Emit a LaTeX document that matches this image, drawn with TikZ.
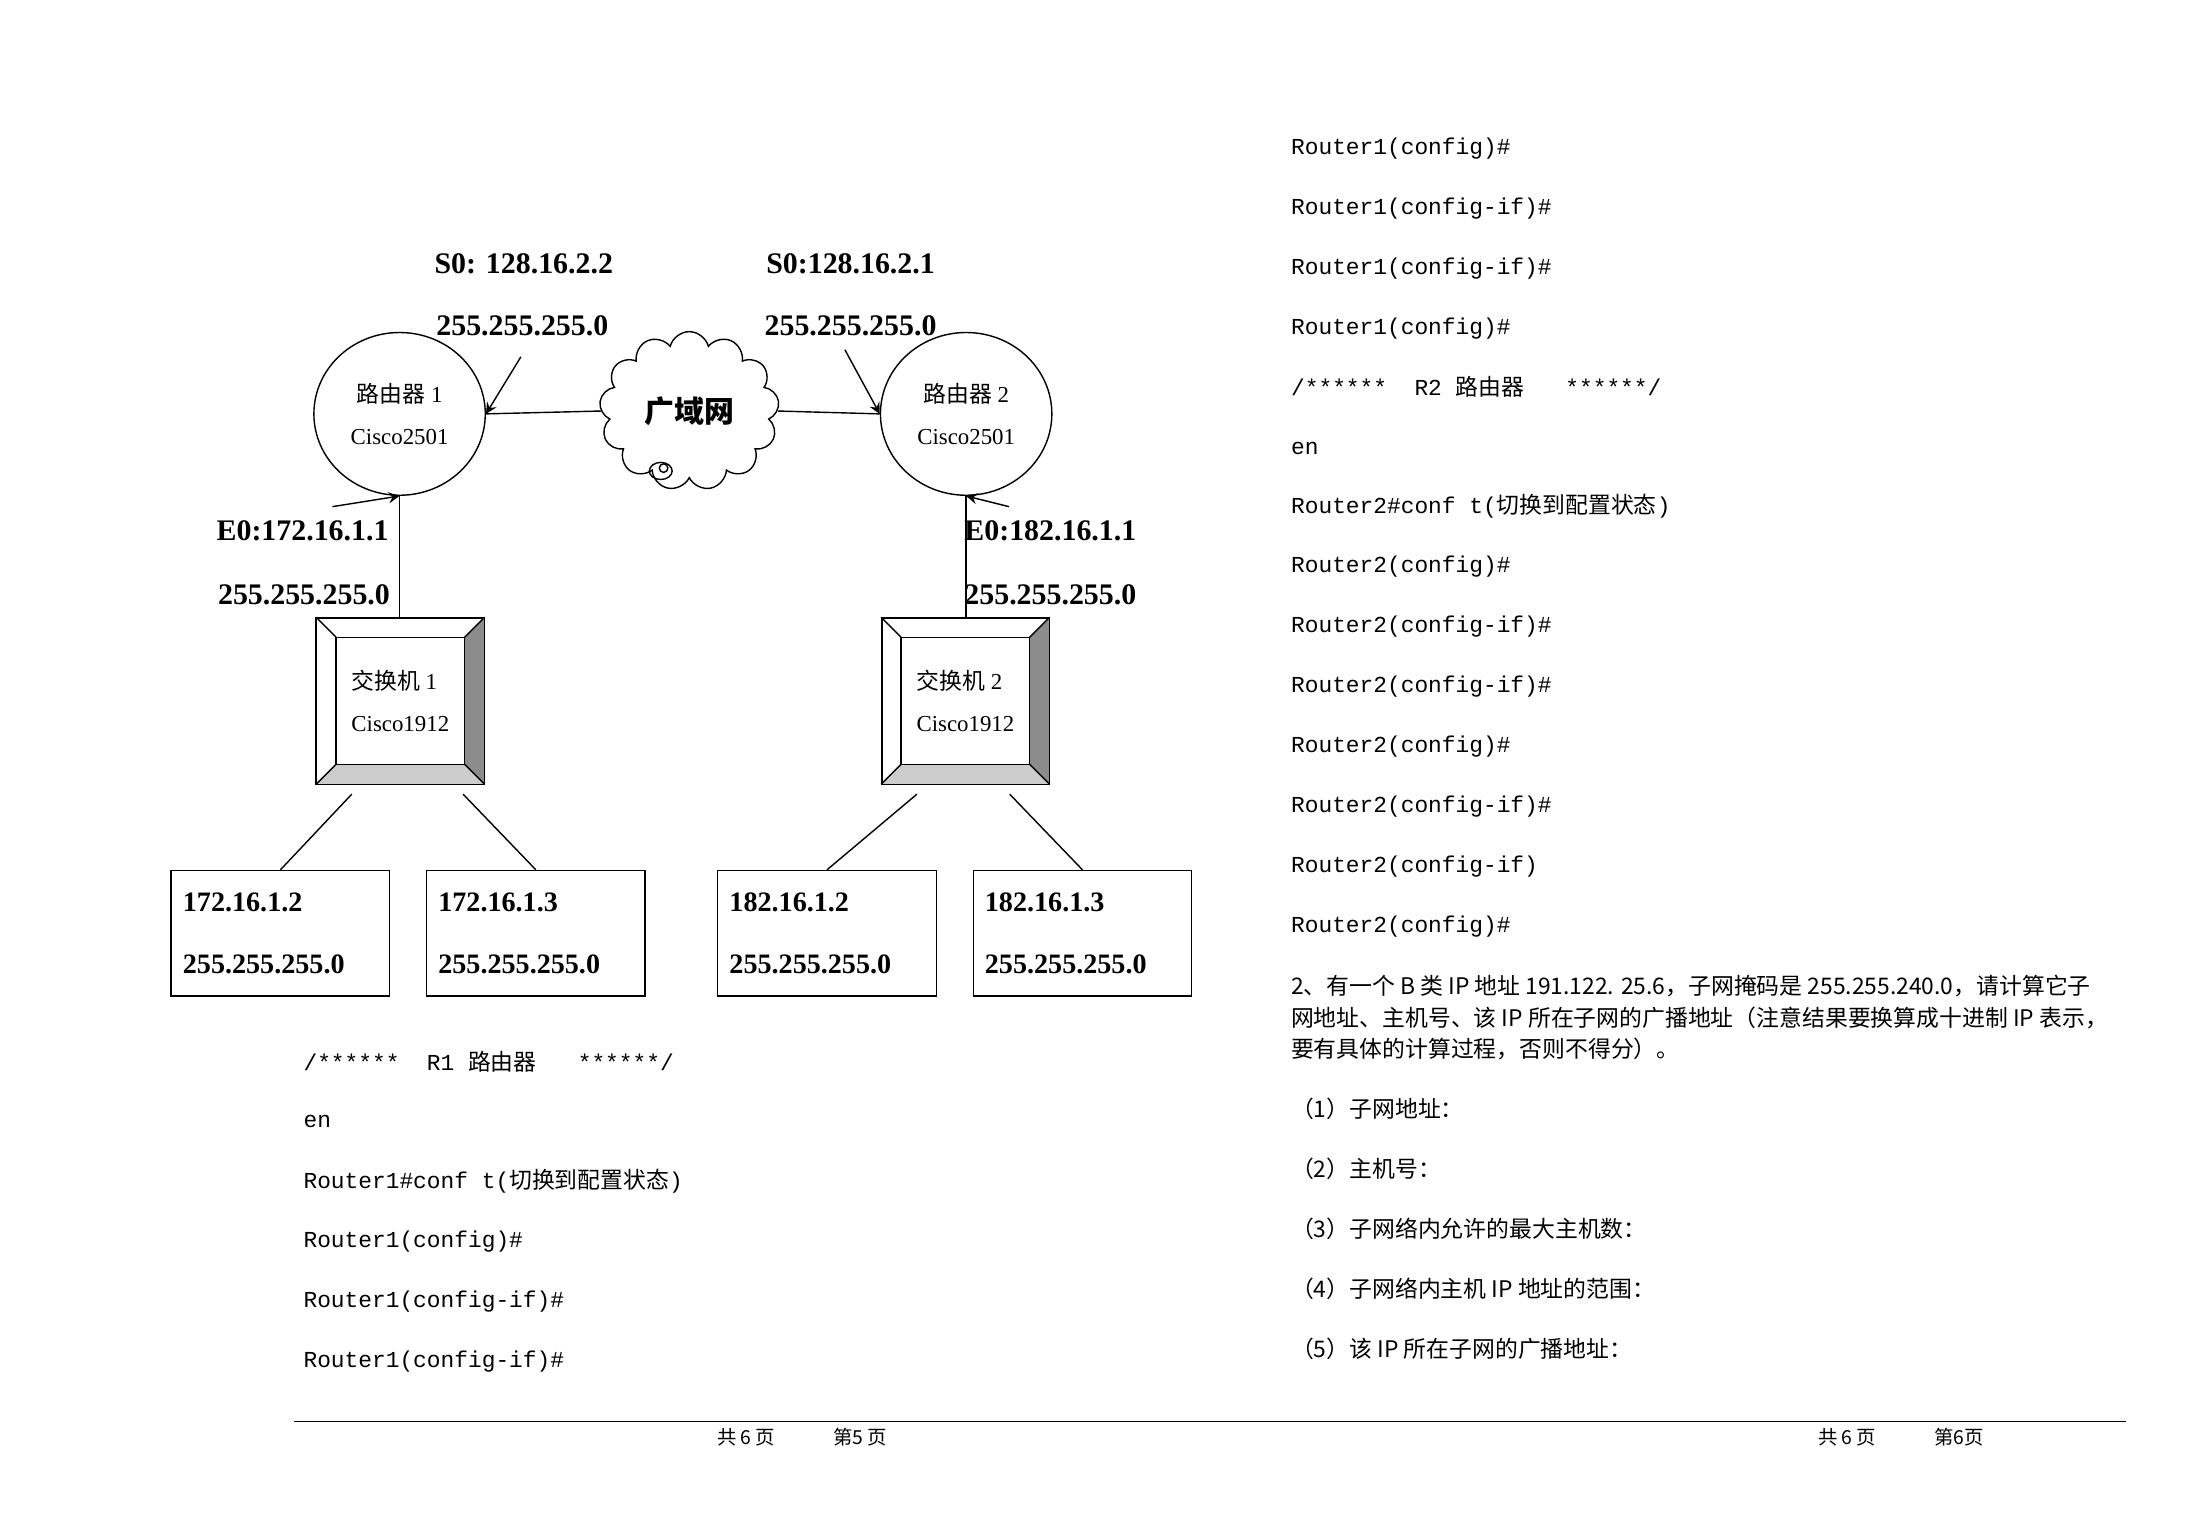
\documentclass[tikz,border=0pt]{standalone}
\usepackage{fontspec}
\setmainfont{Liberation Serif}
\setmonofont{Liberation Mono}
\newfontfamily\cjk{Noto Sans CJK SC}
\usetikzlibrary{positioning, calc, shapes.geometric, shapes.symbols}

\tikzset{
  router/.style={draw, ellipse, minimum width=1.655cm, minimum height=1.627cm, align=center, font=\fontsize{6.5}{10}\selectfont},
  switchbox/.style={draw, minimum width=1.67cm, minimum height=1.655cm, inner sep=0pt},
  host/.style={draw, minimum width=2.18cm, minimum height=1.256cm, align=left, text width=1.95cm, font=\bfseries\fontsize{8}{9}\selectfont},
  addr/.style={font=\bfseries\fontsize{8.5}{10}\selectfont},
  code/.style={anchor=west, font=\ttfamily\fontsize{6.5}{8}\selectfont},
  para/.style={anchor=west, font=\cjk\fontsize{6.5}{8}\selectfont}
}

\begin{document}
\begin{tikzpicture}[x=0.01427cm, y=-0.01427cm]
  \useasboundingbox (0,0) rectangle (1550,1073);
  % routers and cloud
  \node (r1) [router] at (280,290) {{\cjk 路由器} 1\\[2pt]Cisco2501};
  \node (r2) [router] at (677,290) {{\cjk 路由器} 2\\[2pt]Cisco2501};
  \node (wan) [draw, cloud, cloud puffs=13, aspect=1.2, minimum width=1.65cm, minimum height=1.35cm, font=\cjk\bfseries\fontsize{8.5}{10}\selectfont] at (483,288) {广域网};
  \draw (463,330) ellipse (8 and 6);
  \draw (465,328) circle (3);
  \draw (r1.east) -- (wan.west);
  \draw (wan.east) -- (r2.west);

  % switches
  \foreach \n/\pos/\lab in {sw1/{(280.5,491)}/1, sw2/{(676.5,491)}/2}{
    \node (\n) [switchbox] at \pos {};
    \fill[gray!90] ($(\n.north east)+(-14,14)$) -- (\n.north east) -- (\n.south east) -- ($(\n.south east)+(-14,-14)$) -- cycle;
    \fill[gray!40] ($(\n.south west)+(14,-14)$) -- ($(\n.south east)+(-14,-14)$) -- (\n.south east) -- (\n.south west) -- cycle;
    \draw (\n.north west) rectangle (\n.south east);
    \draw ($(\n.north west)+(14,14)$) rectangle ($(\n.south east)+(-14,-14)$);
    \draw (\n.north west) -- ++(14,14) (\n.north east) -- ++(-14,14)
          (\n.south west) -- ++(14,-14) (\n.south east) -- ++(-14,-14);
    \node [font=\fontsize{6.5}{10}\selectfont, align=left] at (\n) {{\cjk 交换机} \lab\\[2pt]Cisco1912};
  }
  \draw (r1.south) -- (r1.south |- sw1.north);
  \draw (r2.south) -- (r2.south |- sw2.north);

  % interface arrows
  \coordinate (a1) at (365,250);
  \coordinate (a2) at (592,245);
  \coordinate (a3) at (233,355);
  \coordinate (a4) at (707,355);
  \draw [-stealth] (a1) -- (r1.east);
  \draw [-stealth] (a2) -- (r2.west);
  \draw [-stealth] (a3) -- (r1.south);
  \draw [-stealth] (a4) -- (r2.south);

  % address labels
  \node [addr] at (367,185) {S0: 128.16.2.2};
  \node [addr] at (366,228) {255.255.255.0};
  \node [addr] at (596,185) {S0:128.16.2.1};
  \node [addr] at (596,228) {255.255.255.0};
  \node [addr] at (212,372) {E0:172.16.1.1};
  \node [addr] at (213,417) {255.255.255.0};
  \node [addr] at (736,372) {E0:182.16.1.1};
  \node [addr] at (736,417) {255.255.255.0};

  % hosts
  \node (h1) [host] at (196.5,654) {172.16.1.2\\[0.3cm]255.255.255.0};
  \node (h2) [host] at (375.5,654) {172.16.1.3\\[0.3cm]255.255.255.0};
  \node (h3) [host] at (579.5,654) {182.16.1.2\\[0.3cm]255.255.255.0};
  \node (h4) [host] at (758.5,654) {182.16.1.3\\[0.3cm]255.255.255.0};
  \draw ($(sw1.south west)+(25,7)$) -- (h1.north);
  \draw ($(sw1.south east)+(-15,7)$) -- (h2.north);
  \draw ($(sw2.south west)+(25,7)$) -- (h3.north);
  \draw ($(sw2.south east)+(-28,7)$) -- (h4.north);

  % configuration text
  \node [code] at (204,744) {/******\ \ R1 {\cjk 路由器}\ \ \ ******/};
  \node [code] at (204,786) {en};
  \node [code] at (204,828) {Router1\#conf t({\cjk 切换到配置状态})};
  \foreach \y/\t in {870/Router1(config)\#, 912/Router1(config-if)\#, 954/Router1(config-if)\#}
    \node [code] at (204,\y) {\t};
  \foreach \y/\t in {104/Router1(config)\#, 146/Router1(config-if)\#, 188/Router1(config-if)\#, 230/Router1(config)\#}
    \node [code] at (896,\y) {\t};
  \node [code] at (896,271) {/******\ \ R2 {\cjk 路由器}\ \ \ ******/};
  \node [code] at (896,314) {en};
  \node [code] at (896,355) {Router2\#conf t({\cjk 切换到配置状态})};
  \foreach \y/\t in {397/Router2(config)\#, 439/Router2(config-if)\#, 481/Router2(config-if)\#, 523/Router2(config)\#, 565/Router2(config-if)\#, 607/Router2(config-if), 649/Router2(config)\#}
    \node [code] at (896,\y) {\t};
  \node [para] at (896,691) {2、有一个 B 类 IP 地址 191.122. 25.6，子网掩码是 255.255.240.0，请计算它子};
  \node [para] at (896,713) {网地址、主机号、该 IP 所在子网的广播地址（注意结果要换算成十进制 IP 表示，};
  \node [para] at (896,735) {要有具体的计算过程，否则不得分）。};
  \foreach \y/\t in {777/（1）子网地址：, 819/（2）主机号：, 861/（3）子网络内允许的最大主机数：, 903/（4）子网络内主机 IP 地址的范围：, 945/（5）该 IP 所在子网的广播地址：}
    \node [para] at (896,\y) {\t};

  % footer
  \draw (206,996) -- (1490,996);
  \node [font=\cjk\fontsize{5.5}{7}\selectfont] at (562,1007) {共 6 页\qquad\quad 第5 页};
  \node [font=\cjk\fontsize{5.5}{7}\selectfont] at (1332,1007) {共 6 页\qquad\quad 第6页};
\end{tikzpicture}
\end{document}
